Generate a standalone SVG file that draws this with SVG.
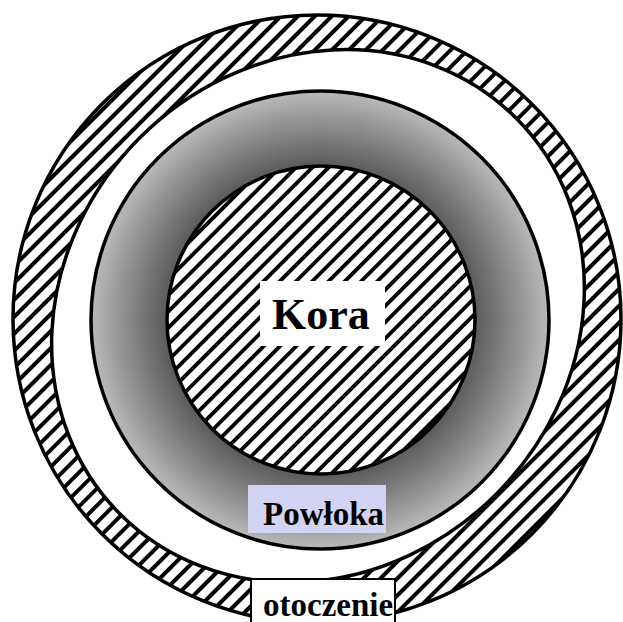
<svg xmlns="http://www.w3.org/2000/svg" width="623" height="622" viewBox="0 0 623 622">
  <style>
    .edge { stroke: #000; stroke-width: 3.5; }
    .lbl { font-family: "Liberation Serif", "Times New Roman", serif; font-weight: bold; fill: #000; }
  </style>
  <defs>
    <pattern id="hatchOuter" width="12" height="12" patternUnits="userSpaceOnUse" patternTransform="rotate(45)">
      <rect width="12" height="12" fill="#fff"/>
      <line x1="6" y1="0" x2="6" y2="12" stroke="#000" stroke-width="4"/>
    </pattern>
    <pattern id="hatchInner" width="11.5" height="12" patternUnits="userSpaceOnUse" patternTransform="rotate(45)">
      <rect width="11.5" height="12" fill="#fff"/>
      <line x1="5.75" y1="0" x2="5.75" y2="12" stroke="#000" stroke-width="3.8"/>
    </pattern>
    <radialGradient id="grayGrad" gradientUnits="userSpaceOnUse" cx="320" cy="320" r="229">
      <stop offset="0.66" stop-color="#575757"/>
      <stop offset="0.84" stop-color="#8a8a8a"/>
      <stop offset="1" stop-color="#b9b9b9"/>
    </radialGradient>
  </defs>

  <rect width="623" height="622" fill="#fff"/>

  <g id="otoczenie-ring">
    <circle cx="317" cy="319" r="304" fill="url(#hatchOuter)" class="edge"/>
    <ellipse cx="318" cy="316" rx="280" ry="252" transform="rotate(-45 318 316)" fill="#fff" class="edge"/>
  </g>

  <g id="powloka">
    <circle cx="320" cy="320" r="229" fill="url(#grayGrad)" class="edge"/>
  </g>

  <g id="kora">
    <circle cx="321" cy="320" r="154" fill="url(#hatchInner)" class="edge" stroke-width="4"/>
  </g>

  <g id="connectors"></g>

  <g id="label-kora">
    <rect x="260" y="281" width="125" height="65" fill="#fff"/>
    <text x="272" y="329" class="lbl" font-size="44">Kora</text>
  </g>

  <g id="label-powloka">
    <rect x="248" y="485" width="138" height="48" fill="#d3d3f3"/>
    <text x="263" y="525" class="lbl" font-size="33">Powłoka</text>
  </g>

  <g id="label-otoczenie">
    <rect x="251" y="579" width="144" height="50" fill="#fff" stroke="#000" stroke-width="2"/>
    <text x="263" y="616" class="lbl" font-size="33">otoczenie</text>
  </g>
</svg>
